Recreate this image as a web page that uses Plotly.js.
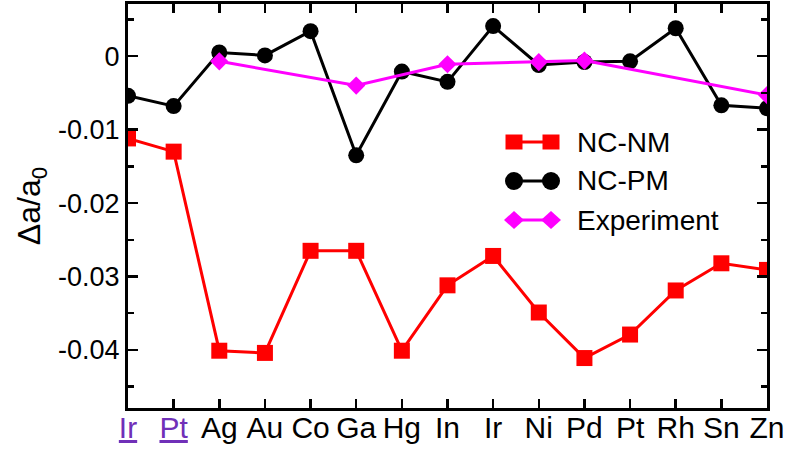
<!DOCTYPE html>
<html>
<head>
<meta charset="utf-8">
<script src="https://cdn.plot.ly/plotly-3.0.1.min.js"></script>
<style>
  html, body { margin: 0; padding: 0; background: #fff; }
  #chart { width: 790px; height: 451px; }
</style>
</head>
<body>
<div id="chart"></div>
<script>
// Element labels along the x axis (first two are highlighted references)
const elements = ["Ir", "Pt", "Ag", "Au", "Co", "Ga", "Hg", "In", "Ir", "Ni", "Pd", "Pt", "Rh", "Sn", "Zn"];
const highlighted = [0, 1];

// Relative lattice change, non-collinear non-magnetic
const ncNM = [-0.0112, -0.0130, -0.0401, -0.0404, -0.0265, -0.0265, -0.0401, -0.0312,
              -0.0272, -0.0349, -0.0411, -0.0379, -0.0319, -0.0282, -0.0291];
// Relative lattice change, non-collinear paramagnetic
const ncPM = [-0.0054, -0.0068, 0.0005, 0.0001, 0.0034, -0.0135, -0.0021, -0.0035,
              0.0041, -0.0012, -0.0008, -0.0007, 0.0038, -0.0067, -0.0071];
// Measured values, available for a subset of elements (indices into elements)
const expIndex = [2, 5, 7, 9, 10, 14];
const expValue = [-0.0007, -0.0040, -0.0011, -0.0008, -0.0006, -0.0053];

const yTickVals = [0, -0.01, -0.02, -0.03, -0.04];
const yTickText = ["0", "-0.01", "-0.02", "-0.03", "-0.04"];

const idx = elements.map((_, i) => i);
const tickText = elements.map((e, i) =>
  highlighted.includes(i) ? `<span style="color:#7030b8"><u>${e}</u></span>` : e);

const font = "Liberation Sans, Arial, Helvetica, sans-serif";
const W = 790, H = 451;
const M = { l: 128, r: 23, t: 4, b: 43 };

const series = [
  { name: "NC-NM", x: idx, y: ncNM, color: "#ff0000", symbol: "square", size: 16 },
  { name: "NC-PM", x: idx, y: ncPM, color: "#000000", symbol: "circle", size: 16 },
  { name: "Experiment", x: expIndex, y: expValue, color: "#ff00ff", symbol: "diamond", size: 14 }
];

const traces = series.map(s => ({
  x: s.x, y: s.y, name: s.name, type: "scatter", mode: "lines+markers",
  line: { color: s.color, width: 3 },
  marker: { symbol: s.symbol, size: s.size, color: s.color, line: { width: 0 } },
  showlegend: false
}));

// Legend key drawn as a short line with a marker at each end
const plotW = W - M.l - M.r, plotH = H - M.t - M.b;
const px = v => (v - M.l) / plotW;
const py = v => (H - M.b - v) / plotH;
const keyLeft = 514, keyRight = 551, keyTextX = 575;
const keyRows = [142, 181, 220];

const shapes = [];
const annotations = [];
series.forEach((s, i) => {
  const cy = keyRows[i];
  shapes.push({ type: "line", xref: "paper", yref: "paper",
    x0: px(keyLeft), x1: px(keyRight), y0: py(cy), y1: py(cy),
    line: { color: s.color, width: 3 } });
  [keyLeft, keyRight].forEach(cx => {
    if (s.symbol === "square") {
      const h = 8.5;
      shapes.push({ type: "rect", xref: "paper", yref: "paper",
        x0: px(cx - h), x1: px(cx + h), y0: py(cy - h + 1), y1: py(cy + h - 1),
        fillcolor: s.color, line: { width: 0 } });
    } else if (s.symbol === "circle") {
      const r = 9;
      shapes.push({ type: "circle", xref: "paper", yref: "paper",
        x0: px(cx - r), x1: px(cx + r), y0: py(cy - r), y1: py(cy + r),
        fillcolor: s.color, line: { width: 0 } });
    } else {
      const r = 10, rv = 9;
      shapes.push({ type: "path", xref: "paper", yref: "paper",
        path: `M ${px(cx - r)} ${py(cy)} L ${px(cx)} ${py(cy - rv)} L ${px(cx + r)} ${py(cy)} L ${px(cx)} ${py(cy + rv)} Z`,
        fillcolor: s.color, line: { width: 0 } });
    }
  });
  annotations.push({ xref: "paper", yref: "paper", x: px(keyTextX), y: py(cy),
    xanchor: "left", yanchor: "middle", showarrow: false, text: s.name,
    font: { family: font, size: 28, color: "#000" } });
});

const layout = {
  width: W, height: H,
  margin: M,
  paper_bgcolor: "#fff", plot_bgcolor: "#fff",
  font: { family: font, color: "#000", size: 28 },
  showlegend: false,
  shapes: shapes,
  annotations: annotations,
  xaxis: {
    range: [0, 14],
    tickmode: "array", tickvals: idx, ticktext: tickText,
    ticks: "inside", ticklen: 9, tickwidth: 2.5, tickcolor: "#000",
    showline: true, linewidth: 3, linecolor: "#000", mirror: "ticks",
    showgrid: false, zeroline: false,
    tickfont: { family: font, size: 30, color: "#000" },
    ticklabelstandoff: -9,
    fixedrange: true
  },
  yaxis: {
    range: [-0.0479, 0.0071],
    tickmode: "array", tickvals: yTickVals, ticktext: yTickText,
    ticks: "inside", ticklen: 10, tickwidth: 2.5, tickcolor: "#000",
    minor: { dtick: 0.005, tick0: 0, ticks: "inside", ticklen: 6, tickwidth: 2.5, tickcolor: "#000", showgrid: false },
    showline: true, linewidth: 3, linecolor: "#000", mirror: "ticks",
    showgrid: false, zeroline: false,
    tickfont: { family: font, size: 27, color: "#000" },
    title: { text: "Δa/a<sub>0</sub>", font: { family: font, size: 32, color: "#000" }, standoff: 8 },
    fixedrange: true
  }
};

Plotly.newPlot("chart", traces, layout, { displayModeBar: false, staticPlot: true });
</script>
</body>
</html>
